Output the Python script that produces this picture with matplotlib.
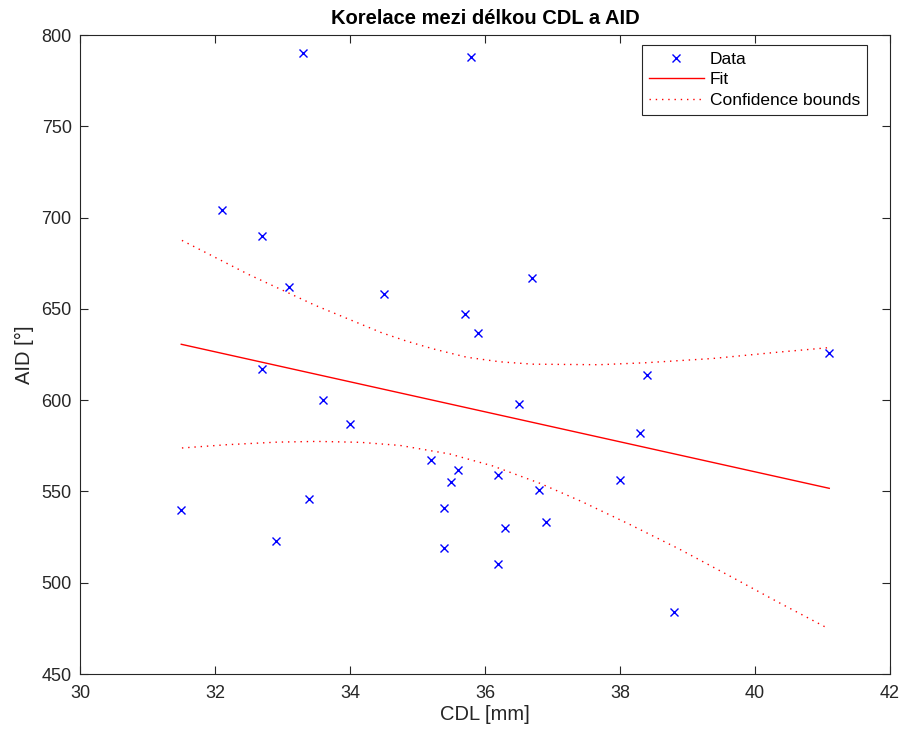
import matplotlib
matplotlib.use('Agg')
import matplotlib.pyplot as plt
import numpy as np

plt.rcParams['font.family'] = ['Liberation Sans', 'DejaVu Sans']

# data points
cdl = [33.3, 35.8, 32.1, 32.7, 33.1, 34.5, 32.7, 36.7, 35.7, 35.9, 36.5,
       35.2, 35.6, 35.5, 36.2, 36.8, 35.4, 36.3, 36.9, 35.4, 36.2,
       33.6, 34.0, 33.4, 31.5, 32.9, 41.1, 38.4, 38.3, 38.0, 38.8]
aid = [790, 788, 704, 690, 662, 658, 617, 667, 647, 637, 598,
       567, 562, 555, 559, 551, 541, 530, 533, 519, 510,
       600, 587, 546, 540, 523, 626, 614, 582, 556, 484]

# fit line end points
fit_x = [31.5, 41.1]
fit_y = [630.6, 551.7]

# confidence bounds
up_x = [31.51, 32.50, 33.48, 34.47, 34.84, 35.23, 35.73, 36.22, 36.71,
        37.69, 38.39, 39.37, 40.35, 41.08]
up_y = [687.5, 668.8, 652.0, 636.9, 632.3, 628.1, 623.5, 621.0, 619.7,
        619.4, 620.5, 622.8, 626.3, 628.7]
lo_x = [31.51, 32.18, 32.92, 33.51, 34.15, 34.74, 35.48, 36.12, 36.81,
        37.43, 38.14, 38.88, 39.62, 40.35, 41.08]
lo_y = [573.8, 575.6, 577.0, 577.4, 576.9, 575.2, 570.5, 563.9, 554.5,
        544.5, 532.0, 518.4, 503.8, 489.2, 475.0]

fig = plt.figure(figsize=(9.01, 7.34), dpi=100)
ax = fig.add_axes([80/901, 1-674/734, 810/901, 639/734])

ax.plot(cdl, aid, 'x', color='b', ms=6, mew=1, label='Data')
ax.plot(fit_x, fit_y, '-', color='r', lw=1, label='Fit')
ax.plot(up_x, up_y, color='r', lw=1, dashes=(1, 3.5), label='Confidence bounds')
ax.plot(lo_x, lo_y, color='r', lw=1, dashes=(1, 3.5))

ax.set_xlim(30, 42)
ax.set_ylim(450, 800)
ax.set_xticks(np.arange(30, 43, 2))
ax.set_yticks(np.arange(450, 801, 50))

for s in ax.spines.values():
    s.set_color('#262626')
    s.set_linewidth(0.8)
ax.tick_params(direction='in', length=6, width=0.8, colors='#262626',
               labelsize=13, top=True, right=True)
ax.tick_params(axis='x', pad=8)
ax.tick_params(axis='y', pad=6)

ax.set_xlabel('CDL [mm]', fontsize=14.5, color='#262626', labelpad=2)
ax.set_ylabel('AID [°]', fontsize=14.5, color='#262626', labelpad=5)
ax.set_title('Korelace mezi délkou CDL a AID', fontsize=14.5,
             fontweight='bold', pad=8)

leg = ax.legend(loc='upper right', bbox_to_anchor=(787/810, 629/639),
                borderaxespad=0, fontsize=12.5, frameon=True, fancybox=False,
                edgecolor='#262626', framealpha=1, handlelength=3.15,
                handletextpad=0.35, labelspacing=0.3, borderpad=0.4)
leg.get_frame().set_linewidth(0.8)

fig.savefig('out.png', dpi=100)
